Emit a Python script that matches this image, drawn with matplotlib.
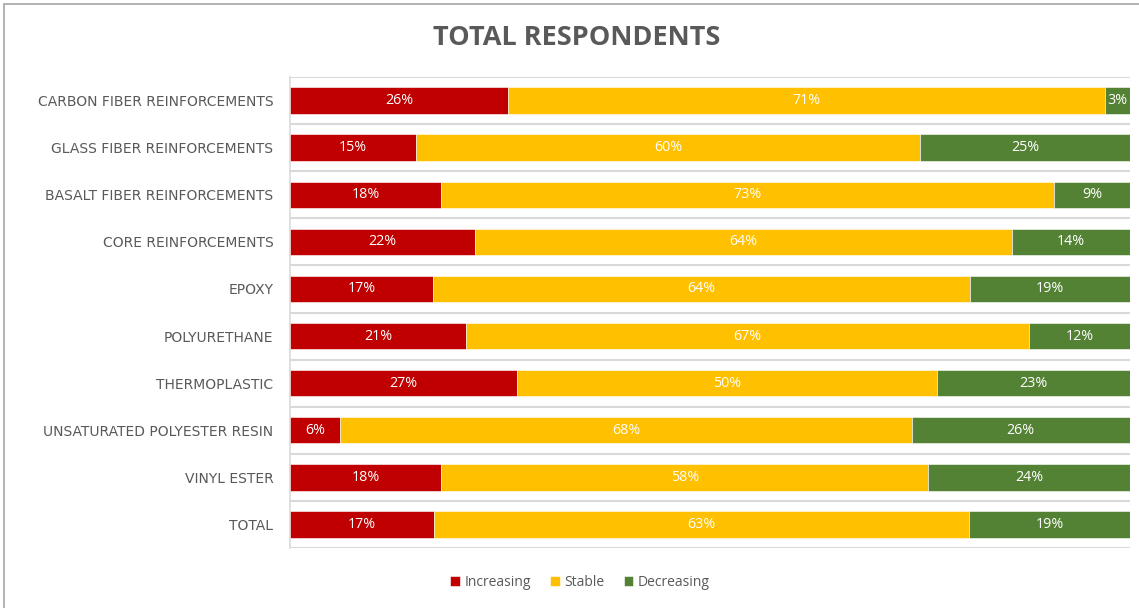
import matplotlib
matplotlib.use("Agg")
import matplotlib.pyplot as plt
from matplotlib.patches import Rectangle
import numpy as np

categories = ["CARBON FIBER REINFORCEMENTS", "GLASS FIBER REINFORCEMENTS",
              "BASALT FIBER REINFORCEMENTS", "CORE REINFORCEMENTS", "EPOXY",
              "POLYURETHANE", "THERMOPLASTIC", "UNSATURATED POLYESTER RESIN",
              "VINYL ESTER", "TOTAL"]
increasing = [26, 15, 18, 22, 17, 21, 27, 6, 18, 17]
stable = [71, 60, 73, 64, 64, 67, 50, 68, 58, 63]
decreasing = [3, 25, 9, 14, 19, 12, 23, 26, 24, 19]
series_names = ["Increasing", "Stable", "Decreasing"]
colors = ["#C00000", "#FFC000", "#548235"]

fig = plt.figure(figsize=(11.39, 6.08), dpi=100)
ax = fig.add_axes([290/1139, 1-548/608, 840/1139, 471/608])

# figure border (top and left visible)
fig.patches.append(Rectangle((4/1139, -0.1), 1.2, 1-4/608+0.1, transform=fig.transFigure,
                             fill=False, edgecolor="#A6A6A6", linewidth=1.2))

data = np.array([increasing, stable, decreasing], dtype=float)
totals = data.sum(axis=0)
shares = data / totals * 100.0  # 100% stacked

y = np.arange(len(categories))
left = np.zeros(len(categories))
for raw, vals, name, col in zip(data, shares, series_names, colors):
    bars = ax.barh(y, vals, left=left, height=0.56, color=col, label=name,
                   edgecolor="white", linewidth=0.4, zorder=3)
    for b, v in zip(bars, raw):
        ax.text(b.get_x() + b.get_width()/2, b.get_y() + b.get_height()/2,
                f"{v:.0f}%", ha="center", va="center", color="white",
                fontsize=10.3, family=["Open Sans", "DejaVu Sans"], zorder=4)
    left += vals

ax.set_xlim(0, 100)
ax.set_ylim(len(categories) - 0.5, -0.5)
ax.set_yticks(y)
ax.set_yticklabels(categories, family=["DejaVu Sans"], fontsize=10, color="#595959")
ax.tick_params(axis="y", length=0, pad=12)
ax.set_xticks([])
for b in np.arange(-0.5, len(categories), 1.0):
    ax.axhline(b, color="#D9D9D9", linewidth=1.5, zorder=1)
for s in ["top", "right", "bottom"]:
    ax.spines[s].set_visible(False)
ax.spines["left"].set_color("#D9D9D9")
ax.spines["left"].set_linewidth(1.2)

fig.text(577/1139, 1-38/608, "TOTAL RESPONDENTS", ha="center", va="center",
         fontsize=19.5, fontweight="bold", color="#595959",
         family=["Open Sans", "DejaVu Sans"])

leg = fig.legend(loc="center", bbox_to_anchor=(580/1139, 1-582/608), ncol=3,
                 frameon=False, handlelength=0.7, handleheight=0.7,
                 handletextpad=0.3, columnspacing=1.4,
                 prop={"family": ["Open Sans", "DejaVu Sans"], "size": 10})
for t in leg.get_texts():
    t.set_color("#595959")

fig.savefig("out.png", dpi=100)
